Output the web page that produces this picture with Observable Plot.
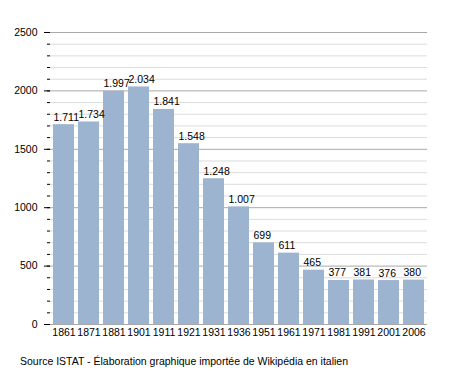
<!DOCTYPE html>
<html><head><meta charset="utf-8">
<script src="https://cdn.jsdelivr.net/npm/d3@7"></script>
<script src="https://cdn.jsdelivr.net/npm/@observablehq/plot@0.6"></script>
<style>
body{margin:0;background:#fff;font-family:"Liberation Sans",Arial,sans-serif;}
#cap{position:absolute;left:20px;top:355px;font-size:10.5px;color:#000;white-space:nowrap;}
</style>
</head><body>
<div id="chart"></div>
<div id="cap">Source ISTAT - Élaboration graphique importée de Wikipédia en italien</div>
<script>
const years = ["1861","1871","1881","1901","1911","1921","1931","1936","1951","1961","1971","1981","1991","2001","2006"];
const population = [1711,1734,1997,2034,1841,1548,1248,1007,699,611,465,377,381,376,380];
const majorTicks = [0,500,1000,1500,2000,2500];
const minorTicks = d3.range(0,2501,100);

const data = years.map((y,i)=>({year:y, pop:population[i]}));
const fmt = d3.formatLocale({decimal:",", thousands:".", grouping:[3], currency:["","€"]}).format(",");

const chart = Plot.plot({
  width:455, height:345,
  marginLeft:50, marginRight:28, marginTop:32, marginBottom:21,
  style:{fontFamily:"Liberation Sans, Arial, sans-serif", fontSize:"10.5px", background:"#fff"},
  x:{domain:years, paddingInner:0.17, paddingOuter:0.04, label:null},
  y:{domain:[0,2500], label:null},
  marks:[
    Plot.gridY(minorTicks.filter(d=>d%500!==0), {stroke:"#dcdcdc", strokeOpacity:1, strokeWidth:1}),
    Plot.gridY(majorTicks, {stroke:"#a8a8a8", strokeOpacity:1, strokeWidth:1}),
    Plot.barY(data, {x:"year", y:"pop", fill:"#9cb4cf"}),
    Plot.text(data, {x:"year", y:"pop", text:d=>fmt(d.pop), textAnchor:"start", lineAnchor:"bottom", dx:-10.5, dy:-4, fill:"#000"}),
    Plot.axisY(minorTicks, {tickSize:3, tickFormat:()=>"", stroke:"#000"}),
    Plot.axisY(majorTicks, {tickSize:6, tickPadding:7, tickFormat:d=>String(d), fill:"#000"}),
    Plot.ruleX([0], {frameAnchor:"left", stroke:"#000"}),
    Plot.ruleY([0], {stroke:"#000", x1:null}),
    Plot.axisX({tickSize:0, tickPadding:4, fill:"#000"})
  ]
});
document.getElementById("chart").appendChild(chart);
</script>
</body></html>
